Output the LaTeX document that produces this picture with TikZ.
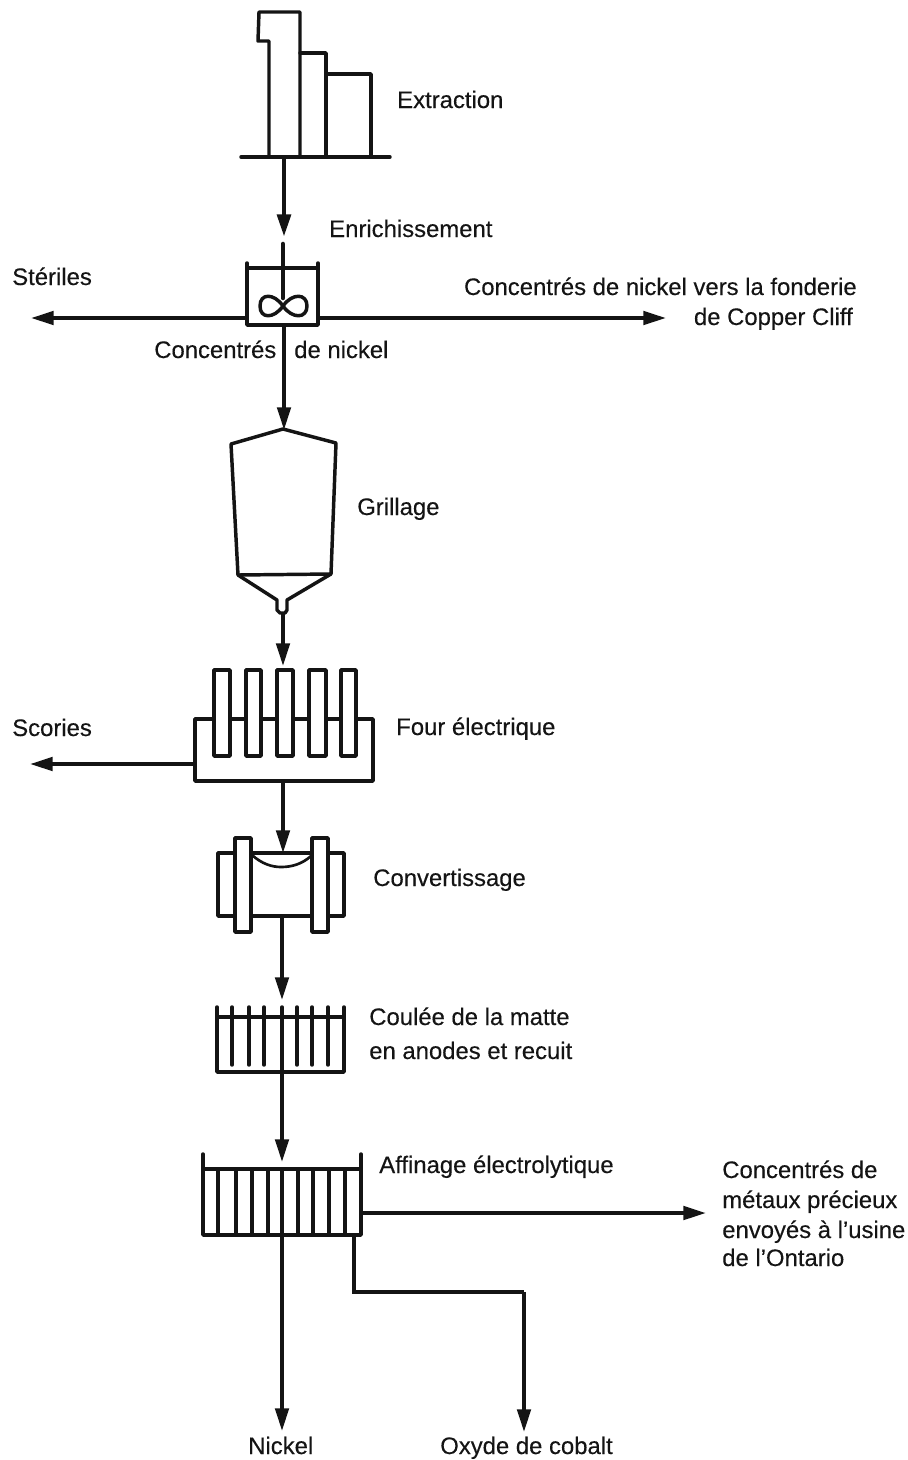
\documentclass[tikz,border=0pt]{standalone}
\usepackage{fontspec}
\setmainfont{Liberation Sans}
\usetikzlibrary{arrows.meta}
\tikzset{
  x=0.75pt,y=-0.75pt,
  outline/.style={line width=2.6pt,line join=round,line cap=round,draw=black!92},
  flow/.style={line width=2.9pt,draw=black!92,-{Triangle[width=10pt,length=17pt]}},
  link/.style={line width=2.9pt,draw=black!92},
  label/.style={anchor=base west,inner sep=0pt,font=\fontsize{17.9pt}{20pt}\selectfont\addfontfeature{FakeBold=0.25},text=black!92},
  labelr/.style={label,anchor=base east}
}
\begin{document}
\begin{tikzpicture}
\useasboundingbox[fill=white] (0,0) rectangle (907,1460);

% Extraction
\draw[outline] (269,155) -- (269,41) -- (258,41) -- (259,12) -- (300,12) -- (300,155);
\draw[outline] (300,53) -- (326,53) -- (326,155);
\draw[outline] (326,74) -- (371,74) -- (371,155);
\draw[outline] (241,157) -- (390,157);
\coordinate (mine) at (284,157);
\coordinate (mixin) at (284,237);
\draw[flow,line width=3.6pt] (mine) -- (mixin);

% Enrichissement
\draw[outline] (247,263) -- (247,325) -- (318,325) -- (318,263);
\draw[outline] (247,268) -- (318,268);
\draw[outline,line width=3.4pt] (283,244) -- (283,298);
\draw[outline] (283,306) .. controls (274,293) and (260,293) .. (260,306) .. controls (260,319) and (274,319) .. (283,306) .. controls (292,293) and (307,293) .. (307,306) .. controls (307,319) and (292,319) .. (283,306);
\coordinate (mixL) at (247,318);
\coordinate (mixR) at (318,318);
\coordinate (mixB) at (284,325);
\coordinate (sterile) at (31,318);
\coordinate (copper) at (666,318);
\draw[flow] (mixL) -- (sterile);
\draw[flow] (mixR) -- (copper);

% Grillage
\draw[outline] (283,429) -- (231,444) -- (238,575) -- (331,574) -- (336,443) -- cycle;
\draw[outline] (238,575) -- (277,600) -- (277,610) -- (280,613) -- (285,613) -- (287,610) -- (287,600) -- (331,574);
\coordinate (roastT) at (284,430);
\coordinate (roastB) at (283,614);
\coordinate (furnT) at (283,666);
\draw[flow] (mixB) -- (roastT);
\draw[flow] (roastB) -- (furnT);

% Four electrique
\draw[outline] (214,719) -- (195,719) -- (195,781) -- (373,781) -- (373,719) -- (356,719);
\foreach \a/\b in {214/230,246/261,277/293,309/326,341/356}{
  \draw[outline] (\a,670) rectangle (\b,756);
}
\foreach \a/\b in {230/246,261/277,293/309,326/341}{
  \draw[outline] (\a,719) -- (\b,719);
}
\coordinate (furnL) at (195,764);
\coordinate (furnB) at (283,781);
\coordinate (slag) at (30,764);
\coordinate (convT) at (283,853);
\draw[flow] (furnL) -- (slag);
\draw[flow] (furnB) -- (convT);

% Convertissage
\draw[outline] (235,853) -- (218,853) -- (218,916) -- (235,916);
\draw[outline] (328,853) -- (344,853) -- (344,916) -- (328,916);
\draw[outline] (251,853) -- (312,853);
\draw[outline] (251,916) -- (312,916);
\draw[outline] (235,838) rectangle (251,932);
\draw[outline] (312,838) rectangle (328,932);
\draw[outline,line width=2pt] (252,855) .. controls (262,864) and (272,867) .. (281,867) .. controls (292,867) and (302,864) .. (311,856);
\coordinate (convB) at (282,916);
\coordinate (castT) at (282,1000);
\draw[flow] (convB) -- (castT);

% Coulee
\draw[outline] (217,1007) -- (217,1072) -- (344,1072) -- (344,1007);
\draw[outline] (217,1017) -- (344,1017);
\foreach \a in {232,249,264,297,312,328}{
  \draw[outline] (\a,1007) -- (\a,1065);
}
\draw[outline] (282,1007) -- (282,1072);
\coordinate (castB) at (282,1072);
\coordinate (refT) at (282,1162);
\draw[flow] (castB) -- (refT);

% Affinage
\draw[outline] (203,1154) -- (203,1235) -- (361,1235) -- (361,1154);
\draw[outline] (203,1169) -- (361,1169);
\foreach \a in {218,236,252,268,282,298,313,329,345}{
  \draw[outline] (\a,1169) -- (\a,1235);
}
\coordinate (refR) at (361,1213);
\coordinate (precious) at (706,1213);
\coordinate (refB) at (282,1235);
\coordinate (nickel) at (282,1431);
\coordinate (refC) at (354,1235);
\coordinate (bend1) at (354,1292);
\coordinate (bend2) at (524,1292);
\coordinate (cobalt) at (524,1432);
\draw[flow] (refR) -- (precious);
\draw[flow] (refB) -- (nickel);
\draw[link] (refC) -- (bend1) -- (bend2);
\draw[flow] (bend2) -- (cobalt);

% Labels
\node[label] (t1) at (397,108) {Extraction};
\node[label] (t2) at (329,237) {Enrichissement};
\node[label] (t3) at (12,285) {Stériles};
\node[labelr] (t4) at (857,295) {Concentrés de nickel vers la fonderie};
\node[labelr] (t5) at (853,325) {de Copper Cliff};
\node[label] (t6) at (154,358) {Concentrés};
\node[label] (t6b) at (294,358) {de nickel};
\node[label] (t7) at (357,515) {Grillage};
\node[label] (t8) at (12,736) {Scories};
\node[label] (t9) at (396,735) {Four électrique};
\node[label] (t10) at (373,886) {Convertissage};
\node[label] (t11) at (369,1025) {Coulée de la matte};
\node[label] (t12) at (369,1059) {en anodes et recuit};
\node[label] (t13) at (379,1173) {Affinage électrolytique};
\node[label] (t14) at (722,1178) {Concentrés de};
\node[label] (t15) at (722,1208) {métaux précieux};
\node[label] (t16) at (722,1238) {envoyés à l'usine};
\node[label] (t17) at (722,1266) {de l’Ontario};
\node[label] (t18) at (248,1454) {Nickel};
\node[label] (t19) at (440,1454) {Oxyde de cobalt};
\end{tikzpicture}
\end{document}
